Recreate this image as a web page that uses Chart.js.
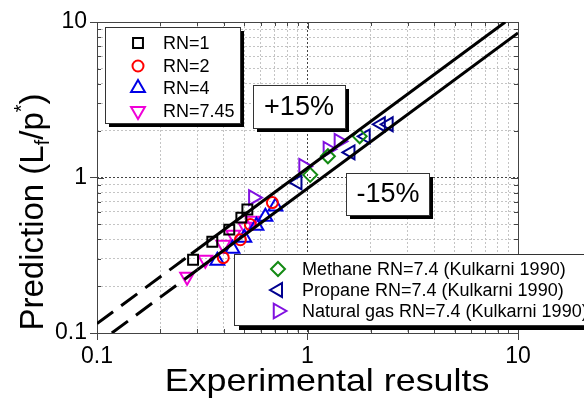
<!DOCTYPE html>
<html>
<head>
<meta charset="utf-8">
<script src="https://cdn.jsdelivr.net/npm/chart.js@4.4.1/dist/chart.umd.min.js"></script>
<style>
  html, body { margin: 0; padding: 0; background: #fff; }
  #wrap { width: 584px; height: 400px; }
</style>
</head>
<body>
<div id="wrap"><canvas id="chart" width="584" height="400"></canvas></div>
<script>
// Data (log-log)
const rn1X = [0.286, 0.353, 0.425, 0.485, 0.518];
const rn1Y = [0.296, 0.386, 0.462, 0.552, 0.622];
const rn2X = [0.398, 0.48, 0.535, 0.681];
const rn2Y = [0.305, 0.398, 0.498, 0.69];
const rn4X = [0.373, 0.44, 0.501, 0.572, 0.631, 0.704];
const rn4Y = [0.292, 0.348, 0.41, 0.49, 0.56, 0.65];
const rn745X = [0.268, 0.327, 0.398, 0.444, 0.507, 0.547];
const rn745Y = [0.23, 0.296, 0.37, 0.429, 0.483, 0.528];
const methaneX = [1.03, 1.25, 1.77];
const methaneY = [1.04, 1.37, 1.84];
const propaneX = [0.896, 1.6, 1.89, 2.23, 2.43];
const propaneY = [0.93, 1.45, 1.84, 2.2, 2.2];
const natgasX = [0.553, 0.958, 1.25, 1.41];
const natgasY = [0.743, 1.18, 1.52, 1.71];

// +15% / -15% guide lines (solid part and dashed extension)
const plusSolid = [{x: 0.28, y: 0.322}, {x: 8.7, y: 10}];
const plusDash = [{x: 0.1, y: 0.115}, {x: 0.28, y: 0.322}];
const minusSolid = [{x: 0.3, y: 0.255}, {x: 10, y: 8.5}];
const minusDash = [{x: 0.1176, y: 0.1}, {x: 0.3, y: 0.255}];

const tickValues = [0.1,0.2,0.3,0.4,0.5,0.6,0.7,0.8,0.9,1,2,3,4,5,6,7,8,9,10];
const tickLabels = { 0.1: '0.1', 1: '1', 10: '10' };

const FONT = '"Liberation Sans", Arial, sans-serif';
const isMajor = v => tickLabels[v] !== undefined;
const pts = (xs, ys) => xs.map((x, i) => ({ x: x, y: ys[i] }));

function markerSet(label, xs, ys, color, style, rot, r) {
    return {
        label: label, data: pts(xs, ys), showLine: false,
        borderColor: color, backgroundColor: 'rgba(0,0,0,0)',
        pointStyle: style, pointRotation: rot, pointRadius: r, pointHoverRadius: r,
        pointBorderWidth: 2, order: 2
    };
}
function guide(data, dash) {
    return {
        label: '', data: data, showLine: true, pointRadius: 0, borderColor: '#000',
        borderWidth: 3, borderDash: dash, fill: false, order: 1
    };
}

const datasets = [
    markerSet('RN=1', rn1X, rn1Y, '#000000', 'rect', 0, 7),
    markerSet('RN=2', rn2X, rn2Y, '#ff0000', 'circle', 0, 5.5),
    markerSet('RN=4', rn4X, rn4Y, '#0000e6', 'triangle', 0, 8),
    markerSet('RN=7.45', rn745X, rn745Y, '#f000d8', 'triangle', 180, 8),
    markerSet('Methane RN=7.4 (Kulkarni 1990)', methaneX, methaneY, '#138a13', 'rectRot', 0, 7),
    markerSet('Propane RN=7.4 (Kulkarni 1990)', propaneX, propaneY, '#000090', 'triangle', 270, 8),
    markerSet('Natural gas RN=7.4 (Kulkarni 1990)', natgasX, natgasY, '#8010e0', 'triangle', 90, 8.5),
    guide(plusSolid, []), guide(plusDash, [20, 10]),
    guide(minusSolid, []), guide(minusDash, [20, 10])
];

function drawBox(ctx, x1, y1, x2, y2, shadow) {
    ctx.fillStyle = '#000';
    ctx.fillRect(x1 + shadow, y1 + shadow, x2 - x1, y2 - y1);
    ctx.fillStyle = '#fff';
    ctx.fillRect(x1, y1, x2 - x1, y2 - y1);
    ctx.strokeStyle = '#333';
    ctx.lineWidth = 1;
    ctx.strokeRect(x1 + 0.5, y1 + 0.5, x2 - x1, y2 - y1);
}

function legendRows(ctx, chart, idx, mx, tx, ys, font) {
    ctx.font = font;
    ctx.textBaseline = 'middle';
    ctx.textAlign = 'left';
    idx.forEach((di, k) => {
        const ds = chart.data.datasets[di];
        ctx.strokeStyle = ds.borderColor;
        ctx.fillStyle = 'rgba(0,0,0,0)';
        ctx.lineWidth = 2;
        Chart.helpers.drawPoint(ctx, { pointStyle: ds.pointStyle, rotation: ds.pointRotation, radius: ds.pointRadius, borderWidth: 2 }, mx, ys[k]);
        ctx.fillStyle = '#000';
        ctx.fillText(ds.label, tx, ys[k] + 1);
    });
}

const decorations = {
    id: 'decorations',
    beforeDatasetsDraw(chart) {
        const { ctx, chartArea: a, scales } = chart;
        ctx.save();
        // inner ticks on all four sides
        ctx.strokeStyle = '#444';
        ctx.lineWidth = 1;
        tickValues.forEach(v => {
            const len = isMajor(v) ? 7 : 4;
            const px = Math.round(scales.x.getPixelForValue(v)) + 0.5;
            const py = Math.round(scales.y.getPixelForValue(v)) + 0.5;
            ctx.beginPath();
            ctx.moveTo(px, a.bottom); ctx.lineTo(px, a.bottom - len);
            ctx.moveTo(px, a.top); ctx.lineTo(px, a.top + len);
            ctx.moveTo(a.left, py); ctx.lineTo(a.left + len, py);
            ctx.moveTo(a.right, py); ctx.lineTo(a.right - len, py);
            ctx.stroke();
        });
        ctx.strokeRect(Math.round(a.left) + 0.5, Math.round(a.top) + 0.5, Math.round(a.right - a.left), Math.round(a.bottom - a.top));
        ctx.restore();
    },
    afterDatasetsDraw(chart) {
        const { ctx } = chart;
        ctx.save();
        // legend 1
        drawBox(ctx, 105, 27, 240, 123, 4);
        legendRows(ctx, chart, [0, 1, 2, 3], 138, 163, [43, 66, 88, 111], '18px ' + FONT);
        // legend 2
        drawBox(ctx, 234, 254, 600, 325, 5);
        legendRows(ctx, chart, [4, 5, 6], 278, 302, [269, 290, 311], '18px ' + FONT);
        // +15% / -15% labels
        ctx.font = '27px ' + FONT;
        ctx.textAlign = 'center';
        ctx.textBaseline = 'middle';
        drawBox(ctx, 253, 85, 345, 128, 4);
        ctx.fillStyle = '#000';
        ctx.fillText('+15%', 299, 108);
        drawBox(ctx, 346, 173, 429, 215, 4);
        ctx.fillStyle = '#000';
        ctx.fillText('-15%', 388, 195);

        // x-axis title, slightly widened like the reference
        ctx.save();
        ctx.translate(327, 382);
        ctx.scale(1.12, 1);
        ctx.font = '32px ' + FONT;
        ctx.fillText('Experimental results', 0, 0);
        ctx.restore();

        // y-axis title with subscript f and superscript *
        ctx.translate(34, 212);
        ctx.rotate(-Math.PI / 2);
        ctx.textBaseline = 'middle';
        ctx.textAlign = 'left';
        const big = '33px ' + FONT, small = '20px ' + FONT;
        const parts = [
            ['Prediction (L', big, 0], ['f', small, 9], ['/p', big, 0], ['*', small, -12], [')', big, 0]
        ];
        let total = 0;
        parts.forEach(p => { ctx.font = p[1]; total += ctx.measureText(p[0]).width; });
        let x = -total / 2;
        parts.forEach(p => {
            ctx.font = p[1];
            ctx.fillText(p[0], x, p[2]);
            x += ctx.measureText(p[0]).width;
        });
        ctx.restore();
    }
};

new Chart(document.getElementById('chart'), {
    type: 'scatter',
    data: { datasets: datasets },
    options: {
        responsive: false,
        animation: false,
        layout: { padding: { top: 22, right: 66, left: 0, bottom: 0 } },
        plugins: { legend: { display: false }, tooltip: { enabled: false } },
        scales: {
            x: {
                type: 'logarithmic', min: 0.1, max: 10,
                afterFit: s => { s.height = 67; },
                afterBuildTicks: s => { s.ticks = tickValues.map(v => ({ value: v, major: isMajor(v) })); },
                ticks: {
                    autoSkip: false, maxRotation: 0, padding: 3, color: '#000',
                    font: { family: FONT, size: 23 },
                    callback: v => tickLabels[v] || ''
                },
                grid: {
                    color: c => (c.tick && c.tick.value === 1) ? '#444' : '#c4c4c4',
                    tickColor: c => (c.tick && isMajor(c.tick.value)) ? '#444' : 'rgba(0,0,0,0)',
                    tickLength: 7, lineWidth: 1
                },
                border: { display: false, dash: [2, 2] }
            },
            y: {
                type: 'logarithmic', min: 0.1, max: 10,
                afterFit: s => { s.width = 97; },
                afterBuildTicks: s => { s.ticks = tickValues.map(v => ({ value: v, major: isMajor(v) })); },
                ticks: {
                    autoSkip: false, padding: 3, color: '#000',
                    font: { family: FONT, size: 23 },
                    callback: v => tickLabels[v] || ''
                },
                grid: {
                    color: c => (c.tick && c.tick.value === 1) ? '#444' : '#c4c4c4',
                    tickColor: c => (c.tick && isMajor(c.tick.value)) ? '#444' : 'rgba(0,0,0,0)',
                    tickLength: 7, lineWidth: 1
                },
                border: { display: false, dash: [2, 2] }
            }
        }
    },
    plugins: [decorations]
});
</script>
</body>
</html>
